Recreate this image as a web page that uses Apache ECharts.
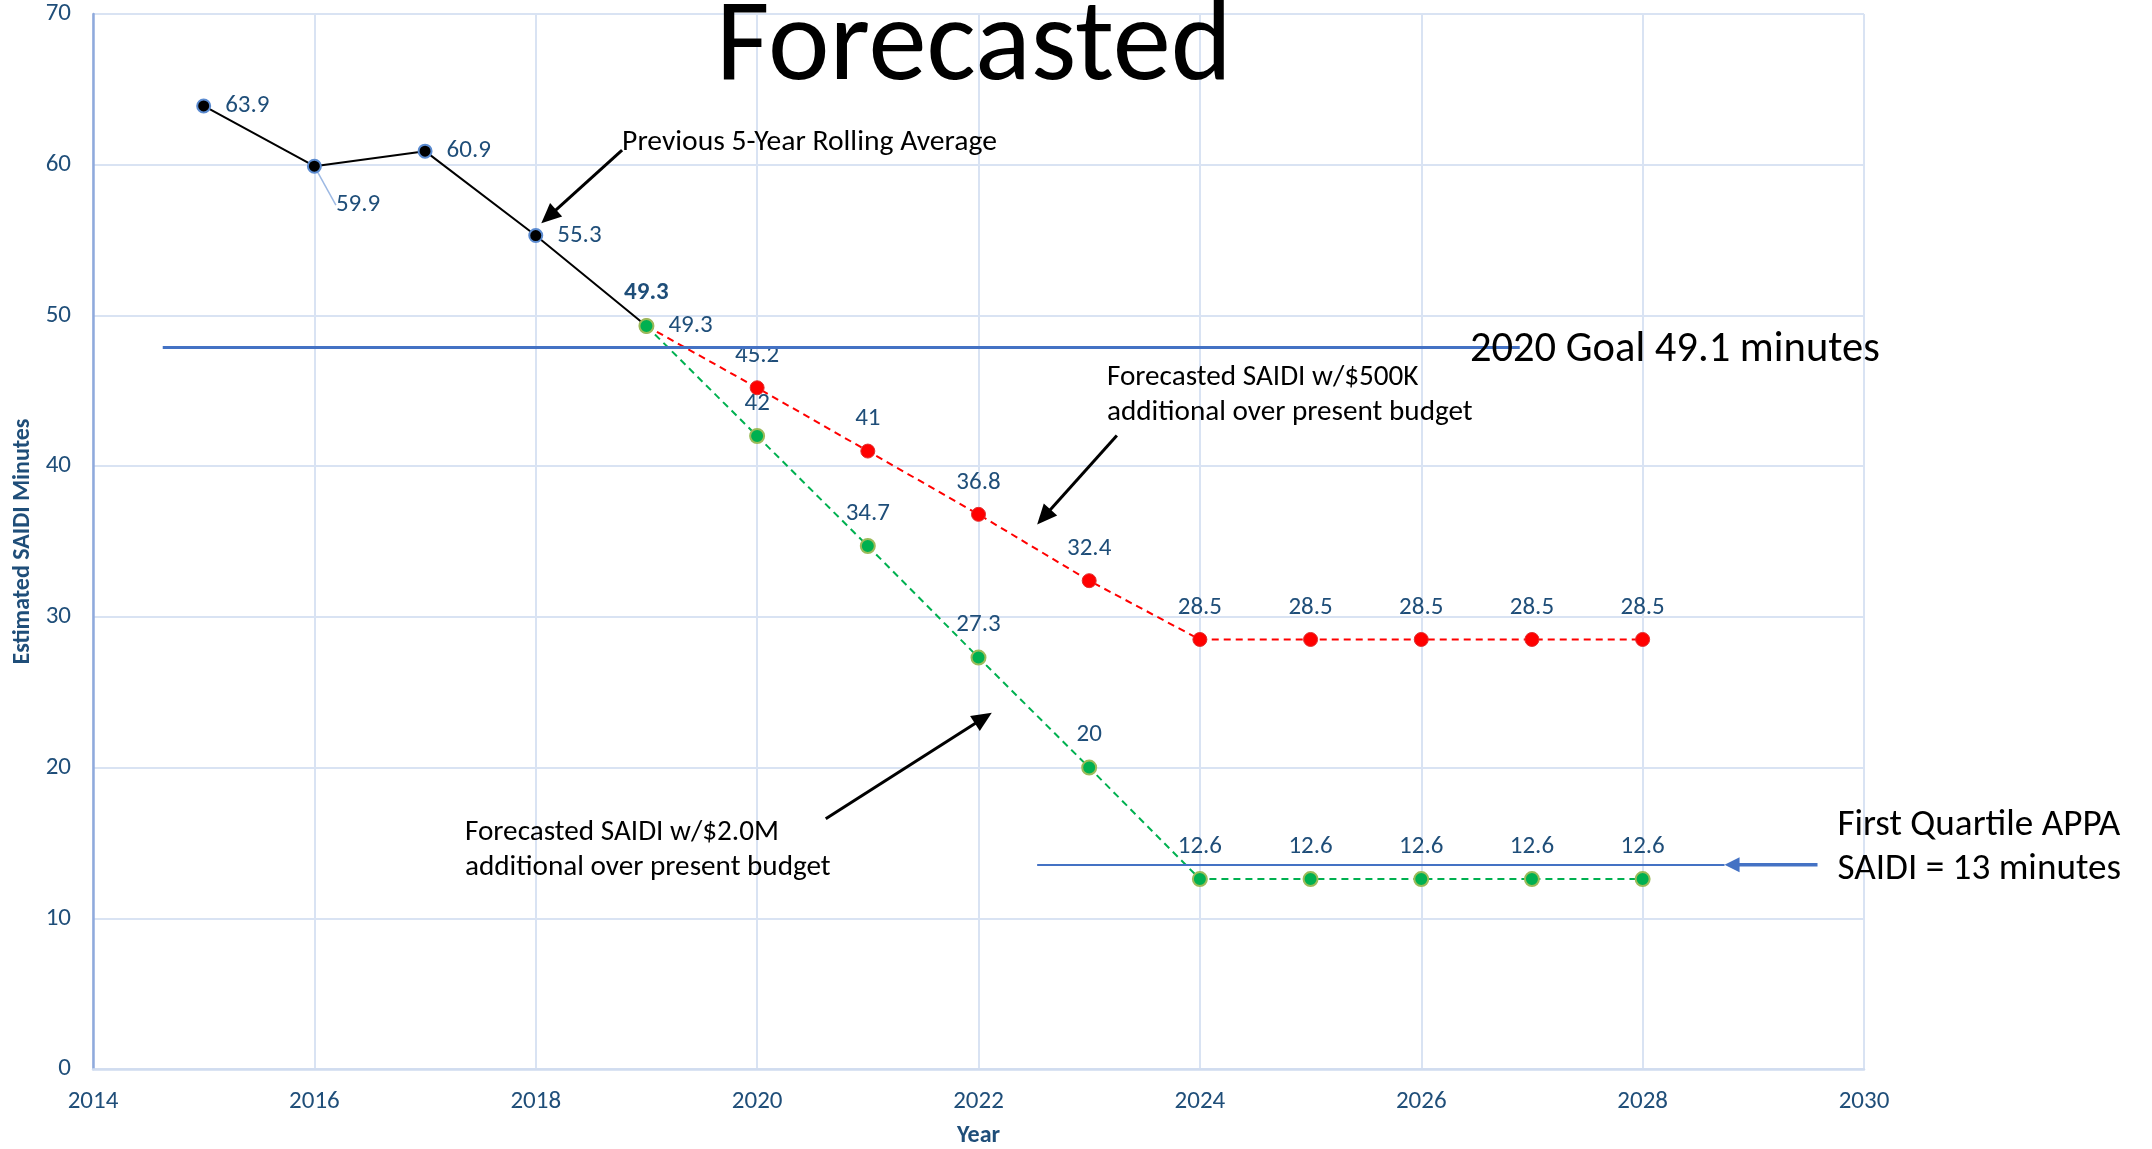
<!DOCTYPE html>
<html>
<head>
<meta charset="utf-8">
<script src="https://cdn.jsdelivr.net/npm/echarts@6/dist/echarts.min.js"></script>
<style>
html,body{margin:0;padding:0;background:#fff;}
#main{width:2152px;height:1149px;}
</style>
</head>
<body>
<div id="main"></div>
<script>
// ---------- DATA ----------
const histYears = [2015, 2016, 2017, 2018, 2019];
const histValues = [63.9, 59.9, 60.9, 55.3, 49.3];
const forecastYears = [2019, 2020, 2021, 2022, 2023, 2024, 2025, 2026, 2027, 2028];
const redValues = [49.3, 45.2, 41, 36.8, 32.4, 28.5, 28.5, 28.5, 28.5, 28.5];
const greenValues = [49.3, 42, 34.7, 27.3, 20, 12.6, 12.6, 12.6, 12.6, 12.6];
const xRange = [2014, 2030, 2];
const yRange = [0, 70, 10];
const titleText = 'Forecasted';
const xName = 'Year';
const yName = 'Estimated SAIDI Minutes';
// reference lines (as drawn, in data units)
const goalValue = 47.9;
const goalSpan = [2014.63, 2026.89];
const quartileValue = 13.55;
const quartileSpan = [2022.53, 2028.74];
// annotations
const notePrevious = 'Previous 5-Year Rolling Average';
const note500 = 'Forecasted SAIDI w/$500K\nadditional over present budget';
const note2M = 'Forecasted SAIDI w/$2.0M\nadditional over present budget';
const noteGoal = '2020 Goal 49.1 minutes';
const noteQuartile = 'First Quartile APPA\nSAIDI = 13 minutes';

const FONT = 'Carlito, Lato, sans-serif';
const LABEL_COLOR = '#1F4E79';

function pairs(xs, ys) { return xs.map((x, i) => [x, ys[i]]); }

const chart = echarts.init(document.getElementById('main'), null, {renderer: 'canvas'});

const gridLine = {show: true, lineStyle: {color: '#D9E3F3', width: 2}};
const labelBase = {show: true, color: LABEL_COLOR, fontSize: 25, fontFamily: FONT};

const histData = pairs(histYears, histValues).map((p, i) => {
  const d = {value: p};
  if (i === histYears.length - 1) d.label = {position: 'top', distance: 13, fontWeight: 'bold'};
  if (i === 1) d.labelLine = {show: true, lineStyle: {color: '#9DB9E3', width: 1.5}};
  return d;
});
const redData = pairs(forecastYears, redValues).map((p, i) => i === 0 ? {value: p, label: {show: false}} : {value: p});
const greenData = pairs(forecastYears, greenValues).map((p, i) => i === 0 ? {value: p, label: {position: 'right', distance: 14}} : {value: p});

chart.setOption({
  animation: false,
  grid: {left: 93, right: 288, top: 14, bottom: 80, containLabel: false, outerBoundsMode: 'none'},
  xAxis: {
    type: 'value', min: xRange[0], max: xRange[1], interval: xRange[2],
    name: xName, nameLocation: 'middle', nameGap: 55,
    nameTextStyle: {color: LABEL_COLOR, fontSize: 24, fontWeight: 'bold', fontFamily: FONT},
    axisLine: {show: true, onZero: false, lineStyle: {color: '#D0DCEF', width: 2.5}},
    axisTick: {show: false},
    axisLabel: {color: LABEL_COLOR, fontSize: 25, fontFamily: FONT, margin: 20, formatter: v => String(v)},
    splitLine: gridLine
  },
  yAxis: {
    type: 'value', min: yRange[0], max: yRange[1], interval: yRange[2],
    name: yName, nameLocation: 'middle', nameGap: 54, nameRotate: 90,
    nameTextStyle: {color: LABEL_COLOR, fontSize: 24, fontWeight: 'bold', fontFamily: FONT},
    axisLine: {show: true, lineStyle: {color: '#8FAADC', width: 2.5}},
    axisTick: {show: false},
    axisLabel: {color: LABEL_COLOR, fontSize: 25, fontFamily: FONT, margin: 22},
    splitLine: gridLine
  },
  series: [
    {
      name: 'history', type: 'line', z: 2, data: histData,
      symbol: 'circle', symbolSize: 13,
      itemStyle: {color: '#000000', borderColor: '#5B8BD0', borderWidth: 2},
      lineStyle: {color: '#000000', width: 2},
      label: Object.assign({}, labelBase, {position: 'right', distance: 14}),
      labelLine: {show: false},
      labelLayout: function (params) {
        if (params.dataIndex === 1) return {dx: 0, dy: 39};
        return {};
      },
      markLine: {
        silent: true, symbol: ['none', 'none'], label: {show: false},
        data: [
          [{coord: [goalSpan[0], goalValue], lineStyle: {color: '#4472C4', width: 3, type: 'solid'}},
           {coord: [goalSpan[1], goalValue]}],
          [{coord: [quartileSpan[0], quartileValue], lineStyle: {color: '#4472C4', width: 2, type: 'solid'}},
           {coord: [quartileSpan[1], quartileValue]}]
        ]
      }
    },
    {
      name: 'red', type: 'line', z: 3, data: redData,
      symbol: 'circle', symbolSize: 14,
      itemStyle: {color: '#FF0000', borderColor: '#E03030', borderWidth: 1},
      lineStyle: {color: '#FF0000', width: 2, type: [7, 5]},
      label: Object.assign({}, labelBase, {position: 'top', distance: 12})
    },
    {
      name: 'green', type: 'line', z: 4, data: greenData,
      symbol: 'circle', symbolSize: 14,
      itemStyle: {color: '#00B050', borderColor: '#9BBB59', borderWidth: 2},
      lineStyle: {color: '#00B050', width: 2, type: [7, 5]},
      label: Object.assign({}, labelBase, {position: 'top', distance: 12})
    }
  ]
});

// ---------- annotations ----------
const ctx = document.createElement('canvas').getContext('2d');
function fit(text, target, weight) {
  ctx.font = (weight || 'normal') + ' 100px ' + FONT;
  return 100 * target / ctx.measureText(text).width;
}
function px(x, y) { return chart.convertToPixel({gridIndex: 0}, [x, y]); }

function arrow(from, to, color, width, headLen, headHalf) {
  const a = px(from[0], from[1]), b = px(to[0], to[1]);
  const dx = b[0] - a[0], dy = b[1] - a[1];
  const L = Math.sqrt(dx * dx + dy * dy), ux = dx / L, uy = dy / L;
  const base = [b[0] - ux * headLen, b[1] - uy * headLen];
  return [
    {type: 'line', silent: true, z: 50, shape: {x1: a[0], y1: a[1], x2: base[0] + ux * 2, y2: base[1] + uy * 2},
     style: {stroke: color, lineWidth: width}},
    {type: 'polygon', silent: true, z: 50, shape: {points: [b,
      [base[0] - uy * headHalf, base[1] + ux * headHalf],
      [base[0] + uy * headHalf, base[1] - ux * headHalf]]},
     style: {fill: color}}
  ];
}
function text(str, x, y, size, opts) {
  const p = px(x, y);
  return {type: 'text', silent: true, z: 60, x: p[0], y: p[1],
    style: Object.assign({text: str, fill: '#000', font: 'normal ' + size + 'px ' + FONT,
      align: 'left', verticalAlign: 'middle'}, opts || {})};
}

const annSize = fit('additional over present budget', 366);
const prevSize = fit(notePrevious, 375);
const goalSize = fit(noteGoal, 410);
const quartSize = fit('First Quartile APPA', 283);
const titleSize = fit(titleText, 516);

const graphics = [];
graphics.push(...arrow([2018.78, 60.97], [2018.05, 56.12], '#000', 3, 20, 9));
graphics.push(...arrow([2023.25, 42.04], [2022.53, 36.13], '#000', 3, 20, 9));
graphics.push(...arrow([2020.62, 16.60], [2022.12, 23.64], '#000', 3, 20, 9));
graphics.push(...arrow([2029.58, quartileValue], [2028.74, quartileValue], '#4472C4', 3.5, 15, 7.5));

graphics.push(text(notePrevious, 2018.78, 61.5, prevSize));
graphics.push(text(note500, 2023.16, 44.7, annSize, {lineHeight: 35}));
graphics.push(text(note2M, 2017.36, 14.5, annSize, {lineHeight: 35}));
graphics.push(text(noteGoal, 2026.44, 47.68, goalSize));
graphics.push(text(noteQuartile, 2029.76, 14.7, quartSize, {lineHeight: 44}));
graphics.push(text(titleText, 2021.96, 67.6, titleSize, {align: 'center', verticalAlign: 'middle'}));

chart.setOption({graphic: graphics});
</script>
</body>
</html>
